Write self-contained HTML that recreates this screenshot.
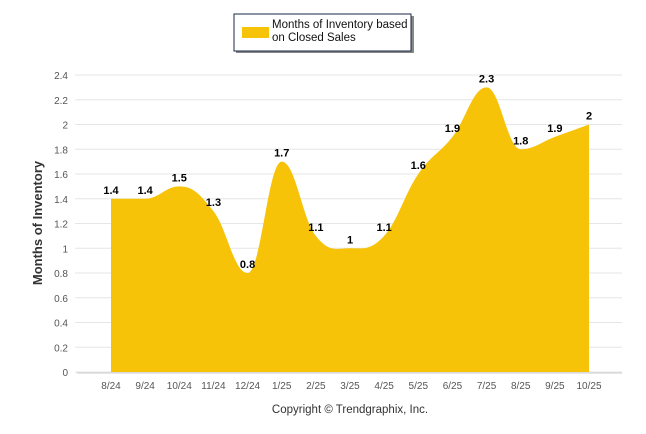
<!DOCTYPE html>
<html><head><meta charset="utf-8"><style>
body{margin:0;background:#fff;}
svg{display:block;font-family:"Liberation Sans",sans-serif;}
</style></head><body>
<svg id="chart" width="646" height="434">
<g id="grid"></g>
<g id="area"></g>
<g id="ylab"></g>
<g id="xlab"></g>
<g id="vals"></g>
<text x="42" y="223" transform="rotate(-90 42 223)" text-anchor="middle" font-size="13" font-weight="bold" fill="#333">Months of Inventory</text>
<text x="350" y="413" text-anchor="middle" font-size="11.5" fill="#333">Copyright © Trendgraphix, Inc.</text>
<g>
<rect x="236" y="16" width="178" height="37" fill="#888"/>
<rect x="234" y="14" width="177" height="37" fill="#fff" stroke="#1a2a4a" stroke-width="1"/>
<rect x="242" y="27" width="27" height="11" fill="#F7C308"/>
<text x="272" y="28" font-size="11.5" fill="#111">Months of Inventory based</text>
<text x="272" y="41" font-size="11.5" fill="#111">on Closed Sales</text>
</g>
</svg>
<script>
const categories=["8/24","9/24","10/24","11/24","12/24","1/25","2/25","3/25","4/25","5/25","6/25","7/25","8/25","9/25","10/25"];
const values=[1.4,1.4,1.5,1.3,0.8,1.7,1.1,1,1.1,1.6,1.9,2.3,1.8,1.9,2];
const yTicks=[0,0.2,0.4,0.6,0.8,1,1.2,1.4,1.6,1.8,2,2.2,2.4];
const NS="http://www.w3.org/2000/svg";
const X0=111,X1=589,Y0=372,Y1=75,YMAX=2.4;
const xs=i=>X0+(X1-X0)*i/(categories.length-1);
const ys=v=>Y0-(Y0-Y1)*v/YMAX;
function mk(t,a,p){const e=document.createElementNS(NS,t);for(const k in a)e.setAttribute(k,a[k]);p.appendChild(e);return e;}
const grid=document.getElementById('grid'),ylab=document.getElementById('ylab'),xlab=document.getElementById('xlab'),area=document.getElementById('area'),vals=document.getElementById('vals');
yTicks.forEach(t=>{
 const l=mk('line',{x1:75,x2:622,y1:ys(t),y2:ys(t),stroke:'#e6e6e6','stroke-width':1},grid);
 
 
 const tx=mk('text',{x:68,y:ys(t)+4,'text-anchor':'end','font-size':'10',fill:'#555'},ylab);
 tx.textContent=t;
 
 
});
const ax=mk('line',{x1:77,x2:622,y1:Y0+1,y2:Y0+1,stroke:'#ccc'},grid);


categories.forEach((c,i)=>{
 const tx=mk('text',{x:xs(i),y:389,'text-anchor':'middle','font-size':'10',fill:'#555'},xlab);
 tx.textContent=c;
 
 
});
const pts=values.map((v,i)=>[xs(i),ys(v)]);
let d=`M${pts[0][0]},${Y0} L${pts[0][0]},${pts[0][1]}`;
const sm=1.5,n=pts.length;
for(let i=1;i<n;i++){
 const p0=pts[i-1],p1=pts[i],pm=pts[i-2]||p0,pn=pts[i+1]||p1;
 function ctrl(prev,cur,next,dir){
  if(prev===cur||next===cur)return cur;
  let lx=(sm*cur[0]+prev[0])/(sm+1),ly=(sm*cur[1]+prev[1])/(sm+1),rx=(sm*cur[0]+next[0])/(sm+1),ry=(sm*cur[1]+next[1])/(sm+1);
  const k=(ry-ly)/(rx-lx);
  ly=cur[1]-k*(cur[0]-lx); ry=cur[1]+k*(rx-cur[0]);
  if((cur[1]<=prev[1]&&cur[1]<=next[1])||(cur[1]>=prev[1]&&cur[1]>=next[1])){ly=cur[1];ry=cur[1];}
  return dir<0?[lx,ly]:[rx,ry];
 }
 const c1=ctrl(pm,p0,p1,1),c2=ctrl(p0,p1,pn,-1);
 d+=` C${c1[0]},${c1[1]} ${c2[0]},${c2[1]} ${p1[0]},${p1[1]}`;
}
d+=` L${pts[n-1][0]},${Y0} Z`;
const pa=mk('path',{d:d,fill:'#F7C308'},area);


values.forEach((v,i)=>{
 const tx=mk('text',{x:xs(i),y:ys(v)-5,'text-anchor':'middle','font-size':'11','font-weight':'bold',fill:'#000'},vals);
 tx.textContent=v;
 
 
});
</script>
</body></html>
